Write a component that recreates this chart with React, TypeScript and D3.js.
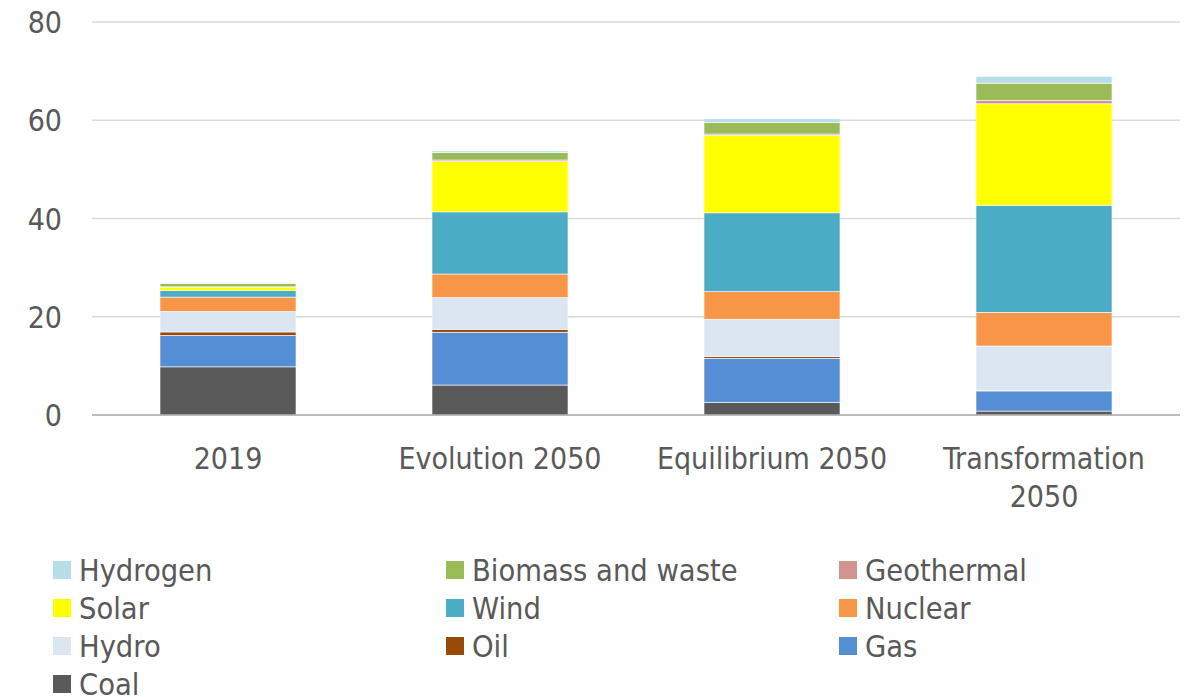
import React, { useEffect, useRef } from 'react'
import { select, scaleBand, scaleLinear, stack } from 'd3'

const categories = ['2019', 'Evolution 2050', 'Equilibrium 2050', 'Transformation 2050']

// stacking order, bottom to top
const seriesNames = ['Coal', 'Gas', 'Oil', 'Hydro', 'Nuclear', 'Wind', 'Solar', 'Geothermal', 'Biomass and waste', 'Hydrogen']

const coal = [9.8, 6.1, 2.6, 0.8]
const gas = [6.4, 10.75, 8.95, 4.1]
const oil = [0.7, 0.6, 0.35, 0.05]
const hydro = [4.2, 6.45, 7.6, 9.1]
const nuclear = [2.9, 4.8, 5.6, 6.85]
const wind = [1.3, 12.65, 16.05, 21.8]
const solar = [0.75, 10.25, 15.75, 20.65]
const geothermal = [0.05, 0.3, 0.3, 0.7]
const biomass = [0.7, 1.5, 2.35, 3.5]
const hydrogen = [0.1, 0.35, 0.75, 1.4]

const yTicks = [0, 20, 40, 60, 80]

// legend is read row by row, three per row
const legendOrder = ['Hydrogen', 'Biomass and waste', 'Geothermal', 'Solar', 'Wind', 'Nuclear', 'Hydro', 'Oil', 'Gas', 'Coal']

const colors: Record<string, string> = {
    'Coal': '#595959',
    'Gas': '#558ED5',
    'Oil': '#984807',
    'Hydro': '#DCE6F2',
    'Nuclear': '#F79646',
    'Wind': '#4BACC6',
    'Solar': '#FFFF00',
    'Geothermal': '#D39391',
    'Biomass and waste': '#9BBB59',
    'Hydrogen': '#B7DEE8',
}

const W = 1189
const H = 697
const FONT = "'DejaVu Sans Condensed', 'DejaVu Sans', sans-serif"
const TEXT = '#595959'

const drawChart = (svgEl: SVGSVGElement) => {
    const svg = select(svgEl)
    svg.selectAll('*').remove()

    const values = [coal, gas, oil, hydro, nuclear, wind, solar, geothermal, biomass, hydrogen]
    const rows = categories.map((c, i) => {
        const row: any = { category: c }
        seriesNames.forEach((s, j) => { row[s] = values[j][i] })
        return row
    })

    const x = scaleBand().domain(categories).range([92, 1180]).paddingInner(0.5).paddingOuter(0.25)
    const y = scaleLinear().domain([0, 80]).range([415, 22])

    // gridlines
    svg.append('g')
        .selectAll('line')
        .data(yTicks.filter(t => t > 0))
        .join('line')
        .attr('x1', 92).attr('x2', 1180)
        .attr('y1', d => y(d)).attr('y2', d => y(d))
        .attr('stroke', '#D9D9D9')
        .attr('stroke-width', 1.5)

    // y tick labels
    svg.append('g')
        .selectAll('text')
        .data(yTicks)
        .join('text')
        .attr('x', 62)
        .attr('y', d => y(d) + 11)
        .attr('text-anchor', 'end')
        .attr('font-family', FONT)
        .attr('font-size', 30)
        .attr('fill', TEXT)
        .text(d => d)

    // stacked bars
    const series = stack().keys(seriesNames)(rows)
    svg.append('g')
        .selectAll('g')
        .data(series)
        .join('g')
        .attr('fill', d => colors[d.key])
        .selectAll('rect')
        .data(d => d)
        .join('rect')
        .attr('x', d => x((d as any).data.category) as number)
        .attr('width', x.bandwidth())
        .attr('y', d => y(d[1]))
        .attr('height', d => Math.max(0, y(d[0]) - y(d[1])))
        .attr('stroke', '#ffffff')
        .attr('stroke-width', 0.6)

    // x axis line
    svg.append('line')
        .attr('x1', 92).attr('x2', 1180)
        .attr('y1', y(0)).attr('y2', y(0))
        .attr('stroke', '#A6A6A6')
        .attr('stroke-width', 1.5)

    // category labels, wrapped to the band step
    const labels = svg.append('g')
        .selectAll('text')
        .data(categories)
        .join('text')
        .attr('text-anchor', 'middle')
        .attr('font-family', FONT)
        .attr('font-size', 30)
        .attr('fill', TEXT)
        .attr('x', d => (x(d) as number) + x.bandwidth() / 2)
        .attr('y', 469)

    labels.each(function (d) {
        const el = select(this)
        const cx = (x(d) as number) + x.bandwidth() / 2
        const words = d.split(' ')
        let line: string[] = []
        let lineNo = 0
        let tspan = el.append('tspan').attr('x', cx).attr('y', 469)
        words.forEach(w => {
            line.push(w)
            tspan.text(line.join(' '))
            if ((tspan.node() as SVGTSpanElement).getComputedTextLength() > x.step() - 20 && line.length > 1) {
                line.pop()
                tspan.text(line.join(' '))
                line = [w]
                lineNo += 1
                tspan = el.append('tspan').attr('x', cx).attr('y', 469 + lineNo * 38).text(w)
            }
        })
    })

    // legend
    const legend = svg.append('g')
        .selectAll('g')
        .data(legendOrder)
        .join('g')
        .attr('transform', (d, i) => `translate(${53 + (i % 3) * 393},${570 + Math.floor(i / 3) * 38})`)

    legend.append('rect')
        .attr('x', 0).attr('y', -9)
        .attr('width', 18).attr('height', 18)
        .attr('fill', d => colors[d])

    legend.append('text')
        .attr('x', 26)
        .attr('y', 11)
        .attr('font-family', FONT)
        .attr('font-size', 30.5)
        .attr('fill', TEXT)
        .text(d => d)
}

export default function App() {
    const svgRef = useRef<SVGSVGElement>(null)

    useEffect(() => {
        if (svgRef.current === null) {
            return
        }
        drawChart(svgRef.current)
    }, [])

    return (
        <svg
            ref={svgRef}
            width={W}
            height={H}
            style={{ position: 'absolute', left: 0, top: 0, background: '#ffffff', fontStretch: 'condensed' }}
        />
    )
}
